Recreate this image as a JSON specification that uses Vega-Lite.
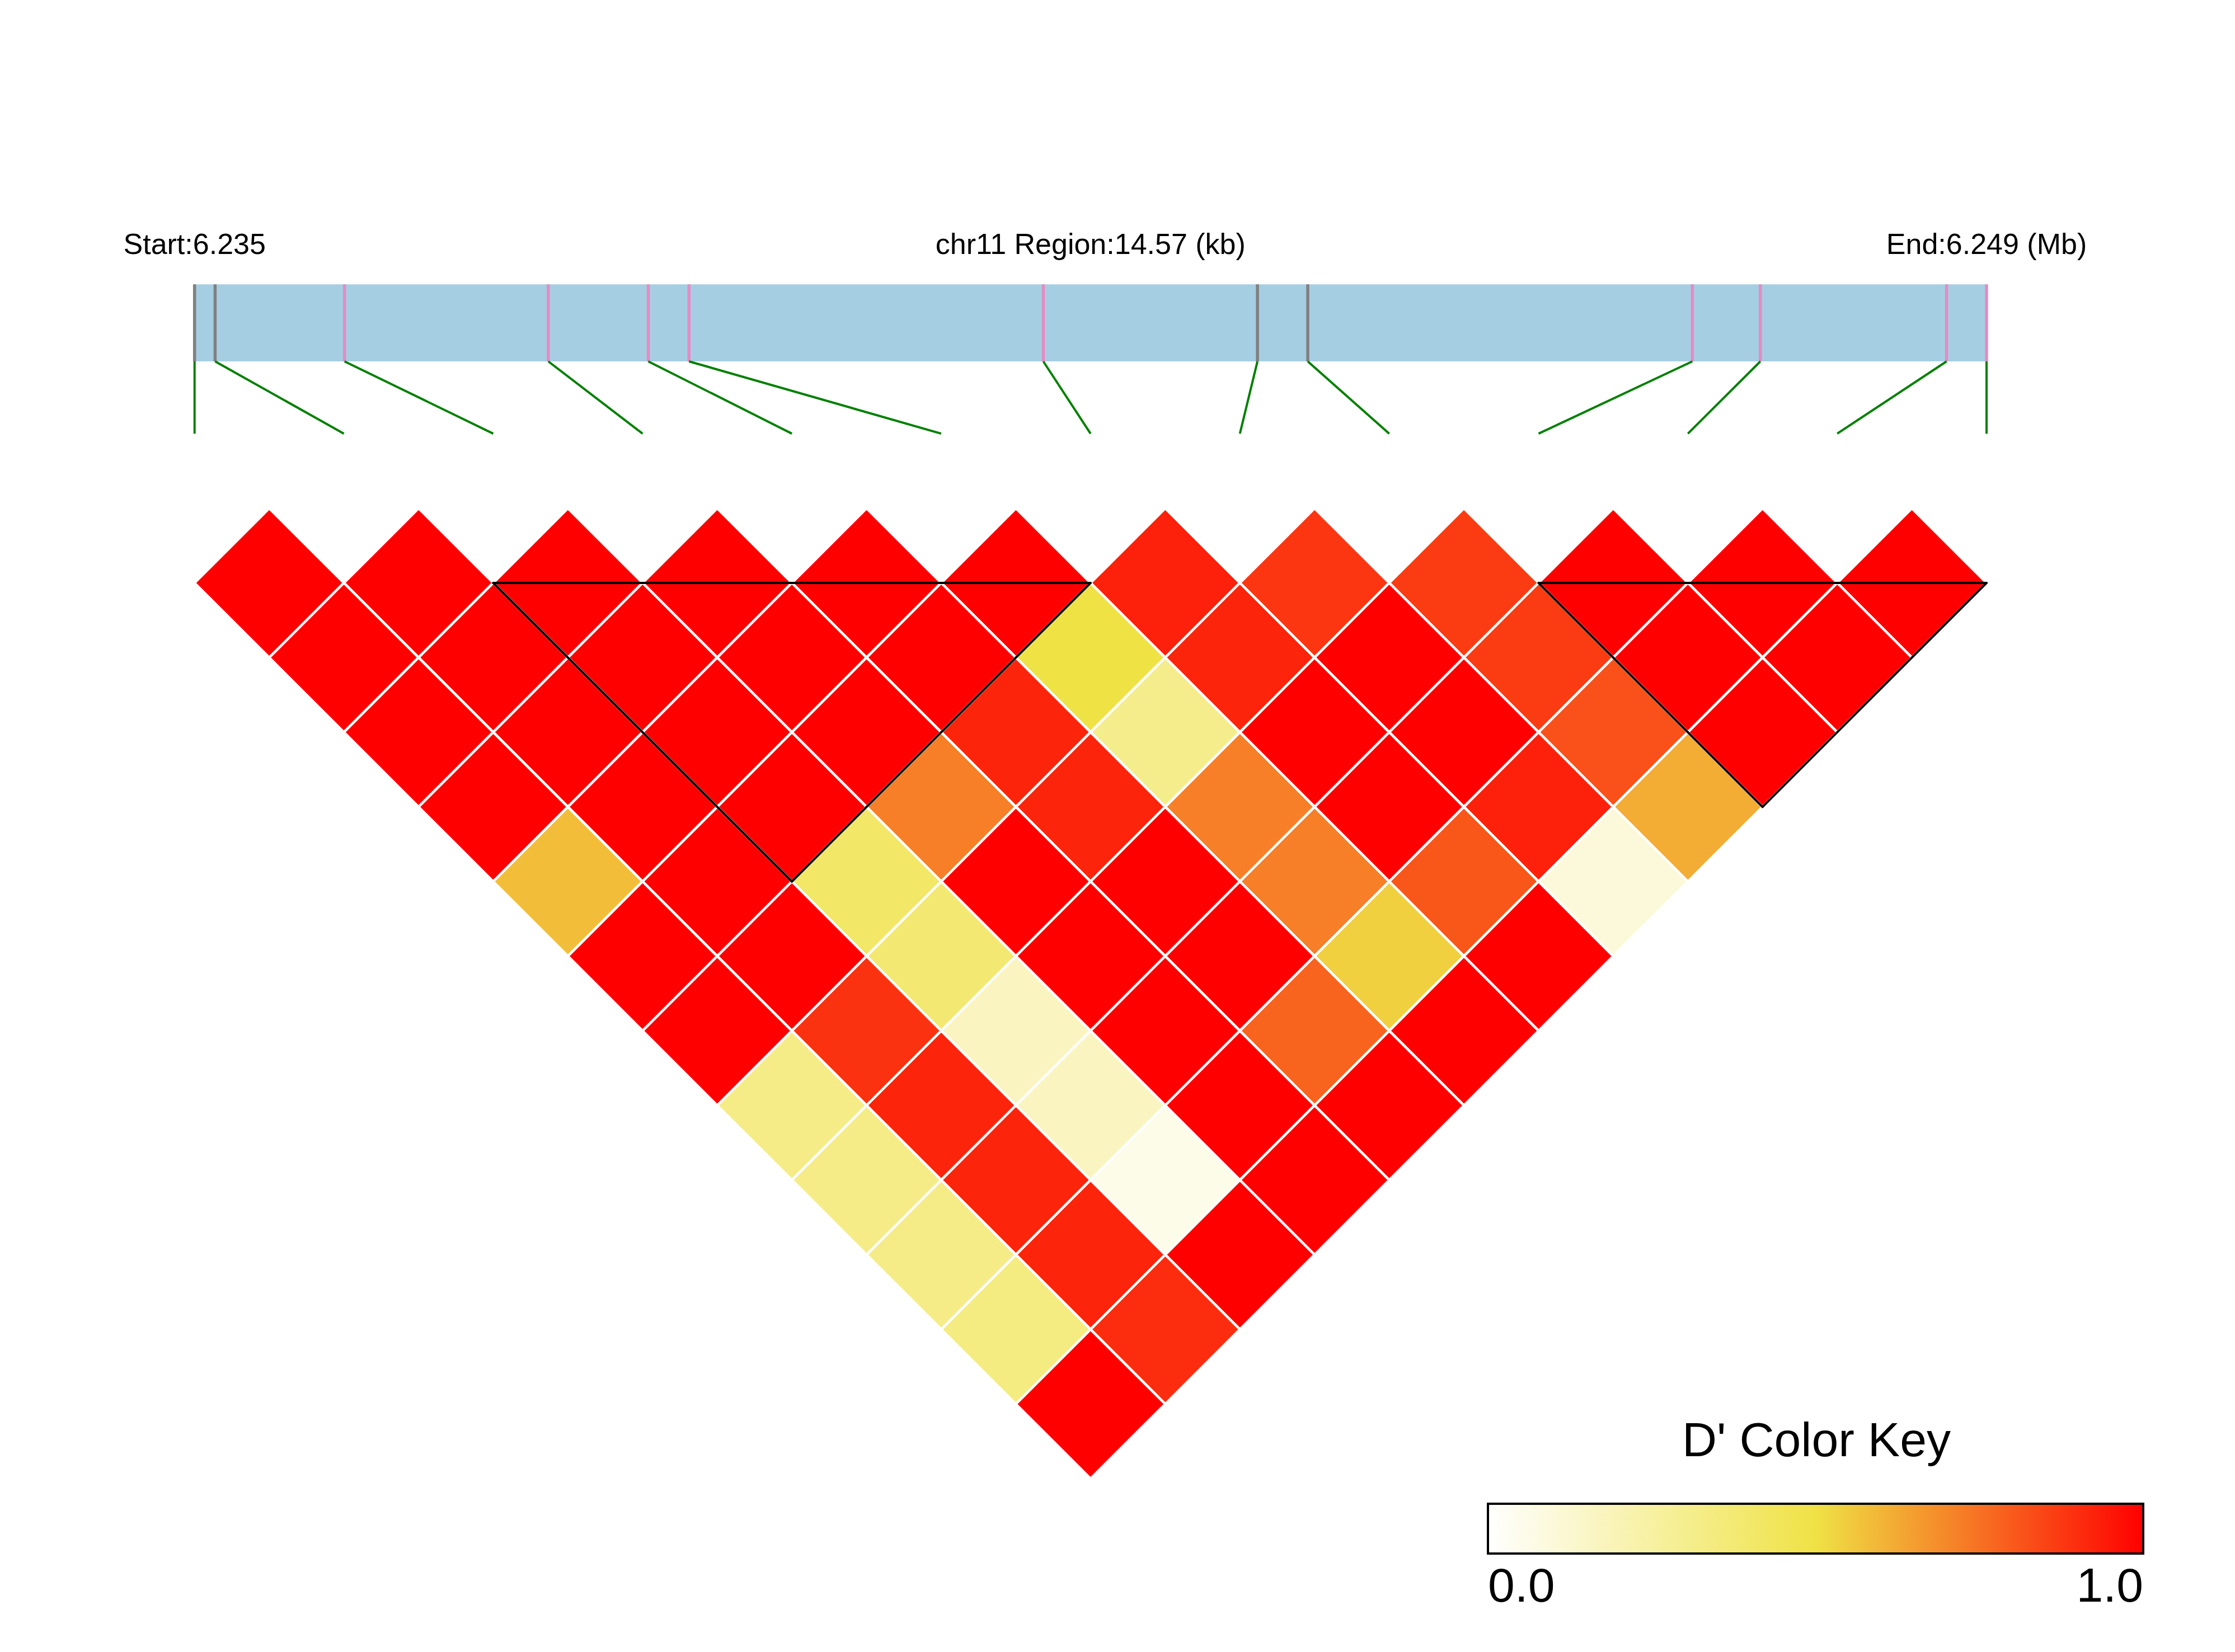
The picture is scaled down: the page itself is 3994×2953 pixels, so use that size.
{
  "$schema": "https://vega.github.io/schema/vega-lite/v6.json",
  "width": 3994,
  "height": 2953,
  "autosize": {"type": "fit", "contains": "padding"},
  "padding": 0,
  "background": "white",
  "config": {"view": {"stroke": null}, "font": "Liberation Sans"},
  "datasets": {
    "snps": [
      {"snp": 0, "offset_bp": 0, "inBlock": "no"},
      {"snp": 1, "offset_bp": 167, "inBlock": "no"},
      {"snp": 2, "offset_bp": 1219, "inBlock": "yes"},
      {"snp": 3, "offset_bp": 2876, "inBlock": "yes"},
      {"snp": 4, "offset_bp": 3689, "inBlock": "yes"},
      {"snp": 5, "offset_bp": 4020, "inBlock": "yes"},
      {"snp": 6, "offset_bp": 6901, "inBlock": "yes"},
      {"snp": 7, "offset_bp": 8642, "inBlock": "no"},
      {"snp": 8, "offset_bp": 9051, "inBlock": "no"},
      {"snp": 9, "offset_bp": 12178, "inBlock": "yes"},
      {"snp": 10, "offset_bp": 12731, "inBlock": "yes"},
      {"snp": 11, "offset_bp": 14245, "inBlock": "yes"},
      {"snp": 12, "offset_bp": 14570, "inBlock": "yes"}
    ],
    "pairs": [
      {"a": 0, "b": 1, "D": 1}, {"a": 1, "b": 2, "D": 1}, {"a": 2, "b": 3, "D": 1}, {"a": 3, "b": 4, "D": 1},
      {"a": 4, "b": 5, "D": 1}, {"a": 5, "b": 6, "D": 1}, {"a": 6, "b": 7, "D": 0.93}, {"a": 7, "b": 8, "D": 0.88},
      {"a": 8, "b": 9, "D": 0.87}, {"a": 9, "b": 10, "D": 1}, {"a": 10, "b": 11, "D": 1}, {"a": 11, "b": 12, "D": 1},
      {"a": 0, "b": 2, "D": 1}, {"a": 1, "b": 3, "D": 1}, {"a": 2, "b": 4, "D": 1}, {"a": 3, "b": 5, "D": 1},
      {"a": 4, "b": 6, "D": 1}, {"a": 5, "b": 7, "D": 0.5}, {"a": 6, "b": 8, "D": 0.92}, {"a": 7, "b": 9, "D": 1},
      {"a": 8, "b": 10, "D": 0.87}, {"a": 9, "b": 11, "D": 1}, {"a": 10, "b": 12, "D": 1},
      {"a": 0, "b": 3, "D": 1}, {"a": 1, "b": 4, "D": 1}, {"a": 2, "b": 5, "D": 1}, {"a": 3, "b": 6, "D": 1},
      {"a": 4, "b": 7, "D": 0.92}, {"a": 5, "b": 8, "D": 0.31}, {"a": 6, "b": 9, "D": 1}, {"a": 7, "b": 10, "D": 1},
      {"a": 8, "b": 11, "D": 0.82}, {"a": 9, "b": 12, "D": 1},
      {"a": 0, "b": 4, "D": 1}, {"a": 1, "b": 5, "D": 1}, {"a": 2, "b": 6, "D": 1}, {"a": 3, "b": 7, "D": 0.72},
      {"a": 4, "b": 8, "D": 0.92}, {"a": 5, "b": 9, "D": 0.72}, {"a": 6, "b": 10, "D": 1}, {"a": 7, "b": 11, "D": 0.93},
      {"a": 8, "b": 12, "D": 0.62},
      {"a": 0, "b": 5, "D": 0.58}, {"a": 1, "b": 6, "D": 1}, {"a": 2, "b": 7, "D": 0.41}, {"a": 3, "b": 8, "D": 1},
      {"a": 4, "b": 9, "D": 1}, {"a": 5, "b": 10, "D": 0.72}, {"a": 6, "b": 11, "D": 0.81}, {"a": 7, "b": 12, "D": 0.1},
      {"a": 0, "b": 6, "D": 1}, {"a": 1, "b": 7, "D": 1}, {"a": 2, "b": 8, "D": 0.38}, {"a": 3, "b": 9, "D": 1},
      {"a": 4, "b": 10, "D": 1}, {"a": 5, "b": 11, "D": 0.54}, {"a": 6, "b": 12, "D": 1},
      {"a": 0, "b": 7, "D": 1}, {"a": 1, "b": 8, "D": 0.89}, {"a": 2, "b": 9, "D": 0.17}, {"a": 3, "b": 10, "D": 1},
      {"a": 4, "b": 11, "D": 0.78}, {"a": 5, "b": 12, "D": 1},
      {"a": 0, "b": 8, "D": 0.32}, {"a": 1, "b": 9, "D": 0.92}, {"a": 2, "b": 10, "D": 0.17}, {"a": 3, "b": 11, "D": 1},
      {"a": 4, "b": 12, "D": 1},
      {"a": 0, "b": 9, "D": 0.32}, {"a": 1, "b": 10, "D": 0.92}, {"a": 2, "b": 11, "D": 0.06}, {"a": 3, "b": 12, "D": 1},
      {"a": 0, "b": 10, "D": 0.32}, {"a": 1, "b": 11, "D": 0.92}, {"a": 2, "b": 12, "D": 1},
      {"a": 0, "b": 11, "D": 0.34}, {"a": 1, "b": 12, "D": 0.9},
      {"a": 0, "b": 12, "D": 1}
    ],
    "blocks": [
      {"block": 1, "first": 2, "last": 6},
      {"block": 2, "first": 9, "last": 12}
    ],
    "region": [{"chrom": "chr11"}]
  },
  "layer": [
    {
      "data": {"name": "region"},
      "mark": {"type": "rect", "fill": "#A6CEE3"},
      "encoding": {
        "x": {"datum": 0, "type": "quantitative", "scale": {"domain": [-1.3029, 13.6638], "nice": false, "zero": false}, "axis": null},
        "x2": {"datum": 12},
        "y": {"datum": -2.0, "type": "quantitative", "scale": {"domain": [-3.9047, 7.161], "nice": false, "zero": false, "reverse": true}, "axis": null},
        "y2": {"datum": -1.484}
      }
    },
    {
      "data": {"name": "snps"},
      "transform": [{"calculate": "datum.offset_bp * 12 / 14570", "as": "u_phys"}],
      "mark": {"type": "rule", "strokeWidth": 5.5},
      "encoding": {
        "x": {"field": "u_phys", "type": "quantitative", "scale": {"domain": [-1.3029, 13.6638], "nice": false, "zero": false}, "axis": null},
        "y": {"datum": -2.0, "type": "quantitative", "scale": {"domain": [-3.9047, 7.161], "nice": false, "zero": false, "reverse": true}, "axis": null},
        "y2": {"datum": -1.484},
        "stroke": {"field": "inBlock", "type": "nominal", "scale": {"domain": ["no", "yes"], "range": ["#808080", "#E78AC3"]}, "legend": null}
      }
    },
    {
      "data": {"name": "snps"},
      "transform": [{"calculate": "datum.offset_bp * 12 / 14570", "as": "u_phys"}],
      "mark": {"type": "rule", "strokeWidth": 4, "color": "#008000"},
      "encoding": {
        "x": {"field": "u_phys", "type": "quantitative", "scale": {"domain": [-1.3029, 13.6638], "nice": false, "zero": false}, "axis": null},
        "x2": {"field": "snp"},
        "y": {"datum": -1.484, "type": "quantitative", "scale": {"domain": [-3.9047, 7.161], "nice": false, "zero": false, "reverse": true}, "axis": null},
        "y2": {"datum": -1.0}
      }
    },
    {
      "data": {"name": "pairs"},
      "transform": [
        {"calculate": "(datum.a + datum.b) / 2", "as": "mid"},
        {"calculate": "(datum.b - datum.a - 1) / 2", "as": "row"}
      ],
      "mark": {"type": "point", "shape": "diamond", "filled": true, "size": 71214, "stroke": "white", "strokeWidth": 4.5, "opacity": 1, "fillOpacity": 1, "strokeOpacity": 1},
      "encoding": {
        "x": {"field": "mid", "type": "quantitative", "scale": {"domain": [-1.3029, 13.6638], "nice": false, "zero": false}, "axis": null},
        "y": {"field": "row", "type": "quantitative", "scale": {"domain": [-3.9047, 7.161], "nice": false, "zero": false, "reverse": true}, "axis": null},
        "fill": {
          "field": "D",
          "type": "quantitative",
          "scale": {"domain": [0, 0.5, 1], "range": ["#ffffff", "#efe245", "#ff0000"], "interpolate": "rgb"},
          "legend": {
            "orient": "none",
            "legendX": 2659,
            "legendY": 2535,
            "direction": "horizontal",
            "padding": 0,
            "title": "D' Color Key",
            "titleFont": "Liberation Sans",
            "titleFontSize": 86,
            "titleFontWeight": "normal",
            "titleColor": "black",
            "titleAnchor": "middle",
            "titleLimit": 4000,
            "titlePadding": 67,
            "gradientLength": 1171,
            "gradientThickness": 89,
            "gradientStrokeColor": "black",
            "gradientStrokeWidth": 4,
            "values": [0, 1],
            "format": ".1f",
            "labelFont": "Liberation Sans",
            "labelFontSize": 86,
            "labelColor": "black",
            "labelAlign": "center",
            "labelOffset": 18,
            "labelLimit": 1000,
            "labelOverlap": false,
            "encode": {
              "labels": {"align": {"value": "center"}, "dx": {"value": 0}}
            }
          }
        }
      }
    },
    {
      "data": {"name": "blocks"},
      "transform": [
        {"calculate": "(datum.first + datum.last) / 2", "as": "apex"},
        {"calculate": "(datum.last - datum.first) / 2", "as": "depth"},
        {"calculate": "0", "as": "topEdge"}
      ],
      "layer": [
        {
          "mark": {"type": "rule", "strokeWidth": 4, "color": "black", "strokeCap": "round"},
          "encoding": {
            "x": {"field": "first", "type": "quantitative", "scale": {"domain": [-1.3029, 13.6638], "nice": false, "zero": false}, "axis": null},
            "x2": {"field": "last"},
            "y": {"field": "topEdge", "type": "quantitative", "scale": {"domain": [-3.9047, 7.161], "nice": false, "zero": false, "reverse": true}, "axis": null},
            "y2": {"field": "topEdge"}
          }
        },
        {
          "mark": {"type": "rule", "strokeWidth": 4, "color": "black", "strokeCap": "round"},
          "encoding": {
            "x": {"field": "first", "type": "quantitative", "scale": {"domain": [-1.3029, 13.6638], "nice": false, "zero": false}, "axis": null},
            "x2": {"field": "apex"},
            "y": {"field": "topEdge", "type": "quantitative", "scale": {"domain": [-3.9047, 7.161], "nice": false, "zero": false, "reverse": true}, "axis": null},
            "y2": {"field": "depth"}
          }
        },
        {
          "mark": {"type": "rule", "strokeWidth": 4, "color": "black", "strokeCap": "round"},
          "encoding": {
            "x": {"field": "last", "type": "quantitative", "scale": {"domain": [-1.3029, 13.6638], "nice": false, "zero": false}, "axis": null},
            "x2": {"field": "apex"},
            "y": {"field": "topEdge", "type": "quantitative", "scale": {"domain": [-3.9047, 7.161], "nice": false, "zero": false, "reverse": true}, "axis": null},
            "y2": {"field": "depth"}
          }
        }
      ]
    },
    {
      "data": {"name": "region"},
      "mark": {"type": "text", "text": "Start:6.235", "font": "Liberation Sans", "fontSize": 52, "align": "center", "baseline": "alphabetic", "color": "black"},
      "encoding": {
        "x": {"datum": 0, "type": "quantitative", "scale": {"domain": [-1.3029, 13.6638], "nice": false, "zero": false}, "axis": null},
        "y": {"datum": -2.2034, "type": "quantitative", "scale": {"domain": [-3.9047, 7.161], "nice": false, "zero": false, "reverse": true}, "axis": null}
      }
    },
    {
      "data": {"name": "region"},
      "mark": {"type": "text", "text": "chr11 Region:14.57 (kb)", "font": "Liberation Sans", "fontSize": 52, "align": "center", "baseline": "alphabetic", "color": "black"},
      "encoding": {
        "x": {"datum": 6, "type": "quantitative", "scale": {"domain": [-1.3029, 13.6638], "nice": false, "zero": false}, "axis": null},
        "y": {"datum": -2.2034, "type": "quantitative", "scale": {"domain": [-3.9047, 7.161], "nice": false, "zero": false, "reverse": true}, "axis": null}
      }
    },
    {
      "data": {"name": "region"},
      "mark": {"type": "text", "text": "End:6.249 (Mb)", "font": "Liberation Sans", "fontSize": 52, "align": "center", "baseline": "alphabetic", "color": "black"},
      "encoding": {
        "x": {"datum": 12, "type": "quantitative", "scale": {"domain": [-1.3029, 13.6638], "nice": false, "zero": false}, "axis": null},
        "y": {"datum": -2.2034, "type": "quantitative", "scale": {"domain": [-3.9047, 7.161], "nice": false, "zero": false, "reverse": true}, "axis": null}
      }
    }
  ]
}
